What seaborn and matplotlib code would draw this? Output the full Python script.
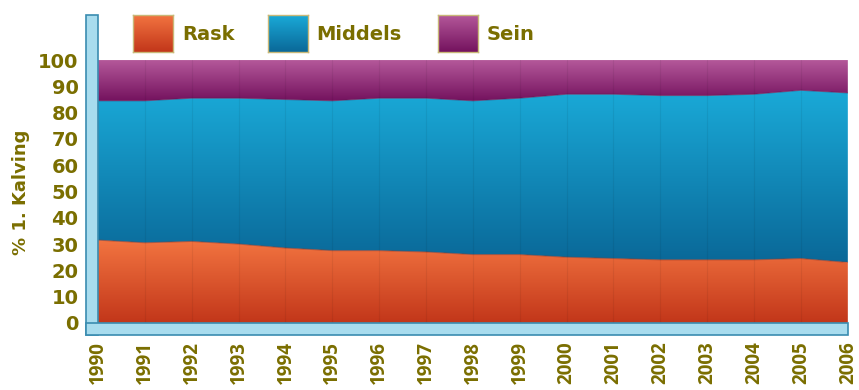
import numpy as np
import matplotlib
matplotlib.use("Agg")
import matplotlib.pyplot as plt
from matplotlib.colors import LinearSegmentedColormap
from matplotlib.patches import Rectangle
import pandas as pd
import seaborn as sns

years = list(range(1990, 2007))
rask = [31.5, 30.5, 31.0, 30.0, 28.5, 27.5, 27.5, 27.0, 26.0, 26.0, 25.0, 24.5, 24.0, 24.0, 24.0, 24.5, 23.0]
middels = [53.0, 54.0, 54.5, 55.5, 56.5, 57.0, 58.0, 58.5, 58.5, 59.5, 62.0, 62.5, 62.5, 62.5, 63.0, 64.0, 64.5]
sein = [15.5, 15.5, 14.5, 14.5, 15.0, 15.5, 14.5, 14.5, 15.5, 14.5, 13.0, 13.0, 13.5, 13.5, 13.0, 11.5, 12.5]
series_names = ["Rask", "Middels", "Sein"]
y_ticks = list(range(0, 101, 10))
y_label = "% 1. Kalving"

text_color = "#7a6e00"
# (bottom colour, top colour) of each band's vertical gradient
gradients = {
    "Rask": ("#c2361a", "#f27440"),
    "Middels": ("#0a6898", "#1aaad8"),
    "Sein": ("#74125e", "#b4589a"),
}

sns.set_theme(style="white")
plt.rcParams["font.family"] = ["DejaVu Sans"]
wide_font = ["DejaVu Sans"]
narrow_font = ["Open Sans", "DejaVu Sans"]

df = pd.DataFrame({"year": years, "Rask": rask, "Middels": middels, "Sein": sein})
df["c_rask"] = df["Rask"]
df["c_middels"] = df["Rask"] + df["Middels"]
df["c_sein"] = df["c_middels"] + df["Sein"]

fig = plt.figure(figsize=(8.59, 3.90), dpi=100)
ax = fig.add_axes([0.114, 0.172, 0.873, 0.674])

x = np.array(years, dtype=float)
lowers = [np.zeros(len(x)), df["c_rask"].values, df["c_middels"].values]
uppers = [df["c_rask"].values, df["c_middels"].values, df["c_sein"].values]
grad = np.linspace(0, 1, 256).reshape(-1, 1)

for name, lo, hi in zip(series_names, lowers, uppers):
    poly = ax.fill_between(x, lo, hi, color=gradients[name][1], lw=0, zorder=1)
    cmap = LinearSegmentedColormap.from_list(name, list(gradients[name]))
    img = ax.imshow(grad, cmap=cmap, aspect="auto", origin="lower",
                    extent=[x[0], x[-1], lo.min(), hi.max()], zorder=2)
    img.set_clip_path(poly.get_paths()[0], transform=ax.transData)
    poly.set_alpha(0)

# boundaries between layers
sns.lineplot(data=df, x="year", y="c_rask", ax=ax, color="#a03820", lw=0.8, alpha=0.6, zorder=3)
sns.lineplot(data=df, x="year", y="c_middels", ax=ax, color="#5a1a50", lw=0.8, alpha=0.5, zorder=3)

# faint year lines
for yr in years[1:-1]:
    ax.axvline(yr, color="black", lw=0.8, alpha=0.06, zorder=4)

ax.set_xlim(x[0], x[-1])
ax.set_ylim(0, 100)
ax.set_yticks(y_ticks)
ax.set_yticklabels([str(v) for v in y_ticks], fontsize=14, fontweight="bold", color=text_color,
                   family=wide_font)
ax.set_xticks(years)
ax.set_xticklabels([str(y) for y in years], rotation=90, fontsize=13.5, fontweight="bold",
                   color=text_color, family=narrow_font)
ax.tick_params(axis="y", length=0, pad=14)
ax.tick_params(axis="x", length=0, pad=13)
ax.set_xlabel("")
ax.set_ylabel("")
for s in ax.spines.values():
    s.set_visible(False)

fig.text(0.024, 0.507, y_label, rotation=90, ha="center", va="center", fontsize=13,
         fontweight="bold", color=text_color, family=wide_font)

# frame bars on left and bottom
fig.patches.append(Rectangle((86 / 859, 1 - 335 / 390), 12 / 859, 320 / 390, transform=fig.transFigure,
                             facecolor="#a8dcee", edgecolor="#3a8cb0", lw=1.2, zorder=0))
fig.patches.append(Rectangle((86 / 859, 1 - 335 / 390), 762 / 859, 12 / 390, transform=fig.transFigure,
                             facecolor="#a8dcee", edgecolor="#3a8cb0", lw=1.2, zorder=0))

# legend with gradient swatches
leg_items = [("Rask", 133, 182), ("Middels", 268, 316), ("Sein", 438, 487)]
for name, px, tx in leg_items:
    sw = fig.add_axes([px / 859, 1 - 52 / 390, 40 / 859, 37 / 390])
    cmap = LinearSegmentedColormap.from_list(name + "_leg", list(gradients[name]))
    sw.imshow(grad, cmap=cmap, aspect="auto", origin="lower", extent=[0, 1, 0, 1])
    sw.set_xticks([])
    sw.set_yticks([])
    for s in sw.spines.values():
        s.set_edgecolor("#c8b878")
        s.set_linewidth(1.0)
    fig.text(tx / 859, 1 - 34 / 390, name, ha="left", va="center", fontsize=14,
             fontweight="bold", color=text_color, family=wide_font)

fig.savefig("out.png", dpi=100)
